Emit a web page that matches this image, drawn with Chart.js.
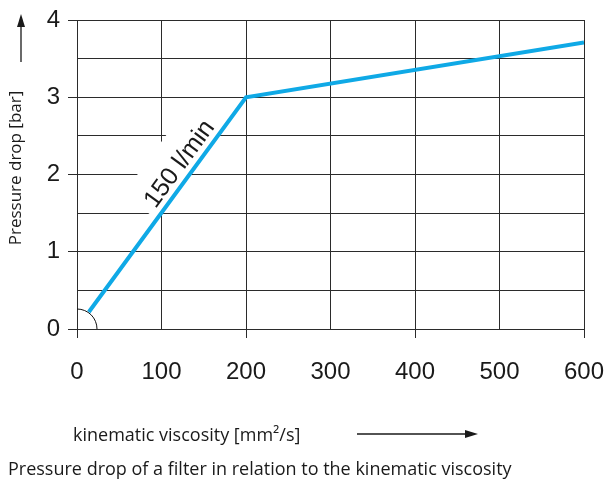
<!DOCTYPE html>
<html>
<head>
<meta charset="utf-8">
<script src="https://cdn.jsdelivr.net/npm/chart.js@4/dist/chart.umd.min.js"></script>
<style>
    html, body { margin: 0; padding: 0; background: #fff; }
    #wrap { width: 608px; height: 483px; position: relative; }
</style>
</head>
<body>
<div id="wrap"><canvas id="chart"></canvas></div>
<script>
// Pressure drop vs kinematic viscosity (150 l/min)

const viscosity = [14, 200, 600];        // mm²/s
const pressureDrop = [0.22, 3.0, 3.71];  // bar
const xTickValues = [0, 100, 200, 300, 400, 500, 600];
const yTickLabels = ['0', '1', '2', '3', '4'];

const seriesLabel = '150 l/min';
const xTitle = 'kinematic viscosity [mm²/s]';
const yTitle = 'Pressure drop [bar]';
const caption = 'Pressure drop of a filter in relation to the kinematic viscosity';

const gridColor = '#2b2b2b';
const lineColor = '#0fa9e6';
const tickFont = 'Arial, "Liberation Sans", sans-serif';
const textFont = '"Open Sans", "Noto Sans", sans-serif';

function arrow(ctx, x1, y1, x2, y2) {
    const a = Math.atan2(y2 - y1, x2 - x1);
    ctx.beginPath();
    ctx.moveTo(x1, y1);
    ctx.lineTo(x2 - 10 * Math.cos(a), y2 - 10 * Math.sin(a));
    ctx.stroke();
    ctx.beginPath();
    ctx.moveTo(x2, y2);
    ctx.lineTo(x2 - 13 * Math.cos(a) + 4 * Math.sin(a), y2 - 13 * Math.sin(a) - 4 * Math.cos(a));
    ctx.lineTo(x2 - 13 * Math.cos(a) - 4 * Math.sin(a), y2 - 13 * Math.sin(a) + 4 * Math.cos(a));
    ctx.closePath();
    ctx.fill();
}

// label geometry, taken from the line's own pixel positions
function labelFrame(chart) {
    const xs = chart.scales.x, ys = chart.scales.y;
    const p0 = { x: xs.getPixelForValue(viscosity[0]), y: ys.getPixelForValue(pressureDrop[0]) };
    const p1 = { x: xs.getPixelForValue(viscosity[1]), y: ys.getPixelForValue(pressureDrop[1]) };
    const ang = Math.atan2(p1.y - p0.y, p1.x - p0.x);
    const t = 0.65;
    const mx = p0.x + (p1.x - p0.x) * t, my = p0.y + (p1.y - p0.y) * t;
    return { mx, my, ang };
}

const decorations = {
    id: 'decorations',
    beforeDatasetsDraw(chart) {
        const ctx = chart.ctx;
        const f = labelFrame(chart);
        ctx.save();
        ctx.translate(f.mx, f.my);
        ctx.rotate(f.ang);
        ctx.fillStyle = '#fff';
        ctx.fillRect(-58, -42, 116, 42);
        ctx.restore();

        // quarter arc at the origin
        const ox = chart.scales.x.getPixelForValue(0);
        const oy = chart.scales.y.getPixelForValue(0);
        ctx.save();
        ctx.strokeStyle = '#111';
        ctx.lineWidth = 1;
        ctx.beginPath();
        ctx.arc(ox, oy, 20, -Math.PI / 2, 0);
        ctx.stroke();
        ctx.restore();
    },
    afterDatasetsDraw(chart) {
        const ctx = chart.ctx;
        const f = labelFrame(chart);
        ctx.save();
        ctx.translate(f.mx, f.my);
        ctx.rotate(f.ang);
        ctx.fillStyle = '#1a1a1a';
        ctx.font = '25px ' + tickFont;
        ctx.textAlign = 'center';
        ctx.textBaseline = 'alphabetic';
        ctx.fillText(seriesLabel, 0, -7);
        ctx.restore();
    },
    afterDraw(chart) {
        const ctx = chart.ctx;
        ctx.save();
        ctx.fillStyle = '#1a1a1a';
        ctx.strokeStyle = '#1a1a1a';
        ctx.lineWidth = 1.3;

        // y title + arrow
        ctx.save();
        ctx.translate(16, 168);
        ctx.rotate(-Math.PI / 2);
        ctx.font = '17px ' + textFont;
        ctx.textAlign = 'center';
        ctx.textBaseline = 'middle';
        ctx.fillText(yTitle, 0, 0);
        ctx.restore();
        arrow(ctx, 21, 62, 21, 14);

        // x title + arrow
        ctx.font = '18px ' + textFont;
        ctx.textAlign = 'left';
        ctx.textBaseline = 'middle';
        ctx.fillText(xTitle, 73, 436);
        arrow(ctx, 357, 434, 478, 434);

        // caption
        ctx.font = '18px ' + textFont;
        ctx.fillText(caption, 8, 470);
        ctx.restore();
    }
};

new Chart(document.getElementById('chart'), {
    type: 'line',
    plugins: [decorations],
    data: {
        datasets: [{
            label: seriesLabel,
            data: viscosity.map((v, i) => ({ x: v, y: pressureDrop[i] })),
            borderColor: lineColor,
            borderWidth: 4,
            pointRadius: 0,
            tension: 0,
            fill: false
        }]
    },
    options: {
        responsive: true,
        maintainAspectRatio: false,
        animation: false,
        layout: { padding: { left: 0, top: 20, right: 24, bottom: 0 } },
        plugins: {
            legend: { display: false },
            title: { display: false },
            tooltip: { enabled: false }
        },
        scales: {
            x: {
                type: 'linear',
                min: 0,
                max: 600,
                afterBuildTicks: s => { s.ticks = xTickValues.map(v => ({ value: v })); },
                afterFit: s => { s.height = 154; s.paddingLeft = 0; s.paddingRight = 0; },
                border: { display: true, color: gridColor, width: 1 },
                grid: {
                    color: gridColor,
                    lineWidth: 1,
                    tickLength: 9,
                    tickColor: c => (c.tick && c.tick.value % 200 === 0) ? gridColor : 'rgba(0,0,0,0)'
                },
                ticks: {
                    autoSkip: false,
                    maxRotation: 0,
                    padding: 20,
                    color: '#1a1a1a',
                    font: { family: tickFont, size: 24 },
                    callback: v => String(v)
                }
            },
            y: {
                min: 0,
                max: 4,
                afterBuildTicks: s => {
                    const t = [];
                    for (let i = 0; i <= 8; i++) t.push({ value: i / 2 });
                    s.ticks = t;
                },
                afterFit: s => { s.width = 77; s.paddingTop = 0; s.paddingBottom = 0; },
                border: { display: true, color: gridColor, width: 1 },
                grid: {
                    color: gridColor,
                    lineWidth: 1,
                    tickLength: 9,
                    tickColor: c => (c.tick && Number.isInteger(c.tick.value)) ? gridColor : 'rgba(0,0,0,0)'
                },
                ticks: {
                    autoSkip: false,
                    padding: 8,
                    color: '#1a1a1a',
                    font: { family: tickFont, size: 24 },
                    callback: v => Number.isInteger(v) ? yTickLabels[v] : ''
                }
            }
        }
    }
});
</script>
</body>
</html>
